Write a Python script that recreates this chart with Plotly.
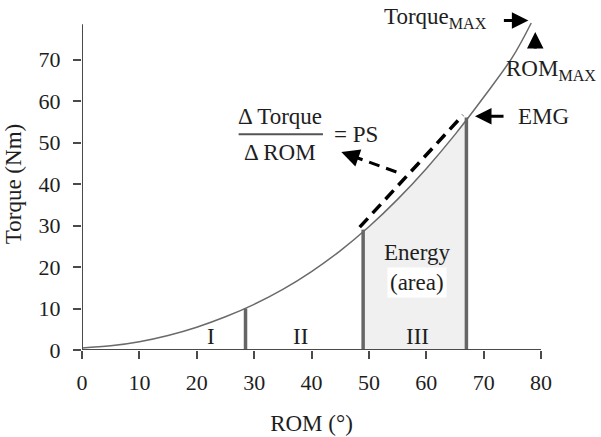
import plotly.graph_objects as go

# Torque-ROM curve
rom = [0, 5, 10, 15, 20, 25, 30, 35, 40, 45, 50, 55, 60, 65, 70, 75, 78.3]
torque = [0.5, 1.0, 2.0, 3.5, 5.5, 8.0, 11.0, 14.6, 18.9, 23.9, 29.7, 36.3, 43.7, 51.9, 60.9, 70.5, 78.8]

# vertical markers separating phases
bar_x = [28.5, 49, 67]
bar_h = [10, 29, 56]

# passive stiffness chord (dashed)
chord_x = [48.4, 66.4]
chord_y = [29.6, 56.6]

# dashed pointer arrow
ptr_x = [54.8, 46.2]
ptr_y = [42.9, 47.2]

phase_labels = ["I", "II", "III"]
phase_x = [22.5, 38, 58.5]
phase_y = [3.2, 3.2, 3.2]

xticks = [0, 10, 20, 30, 40, 50, 60, 70, 80]
yticks = [0, 10, 20, 30, 40, 50, 60, 70]

FONT = "Liberation Serif, Times New Roman, serif"
AX = "#4a4a4a"
TXT = "#1e1e1e"

fig = go.Figure()

# energy area between bar 2 and bar 3
lo, hi = bar_x[1], bar_x[2]
area_x = [lo] + [x for x in rom if lo < x < hi] + [hi]
area_y = [bar_h[1]] + [y for x, y in zip(rom, torque) if lo < x < hi] + [bar_h[2]]
fig.add_trace(go.Scatter(x=area_x, y=area_y, fill="tozeroy", fillcolor="#f0f0f0",
                         line=dict(width=0), mode="lines", hoverinfo="skip"))

fig.add_trace(go.Scatter(x=rom, y=torque, mode="lines",
                         line=dict(color="#6a6a6a", width=1.5, shape="spline")))

for bx, bh in zip(bar_x, bar_h):
    fig.add_trace(go.Scatter(x=[bx, bx], y=[0, bh], mode="lines",
                             line=dict(color="#666666", width=3.5)))

fig.add_trace(go.Scatter(x=chord_x, y=chord_y, mode="lines",
                         line=dict(color="black", width=3.5, dash="12px,7px")))
fig.add_trace(go.Scatter(x=ptr_x, y=ptr_y, mode="lines",
                         line=dict(color="black", width=3, dash="11px,7px")))

# axis lines
fig.add_shape(type="line", x0=0, x1=0, y0=0, y1=78.5, xref="x", yref="y",
              line=dict(color=AX, width=2))
fig.add_shape(type="line", x0=-1.4, x1=80, y0=0, y1=0, xref="x", yref="y",
              line=dict(color=AX, width=2))
# fraction bar
fig.add_shape(type="line", x0=27.3, x1=42.0, y0=52.0, y1=52.0, xref="x", yref="y",
              line=dict(color="#555555", width=2))

ann = []
tf = dict(family=FONT, size=23, color=TXT)
for t, x, y in zip(phase_labels, phase_x, phase_y):
    ann.append(dict(x=x, y=y, text=t, showarrow=False, font=tf))
ann.append(dict(x=58.4, y=23.5, text="Energy", showarrow=False, font=tf))
ann.append(dict(x=58.4, y=16.2, text="(area)", showarrow=False, font=tf,
                bgcolor="white", borderpad=2))
ann.append(dict(x=34.5, y=56.3, text="Δ Torque", showarrow=False, font=tf))
ann.append(dict(x=34.5, y=47.6, text="Δ ROM", showarrow=False, font=tf))
ann.append(dict(x=47.8, y=52.0, text="= PS", showarrow=False, font=tf))
# pointer arrowhead
ann.append(dict(x=45.2, y=47.7, ax=10, ay=3.5, text="", showarrow=True,
                arrowhead=2, arrowsize=1.2, arrowwidth=3, arrowcolor="black"))
# Torque max
ann.append(dict(x=71.0, y=1.0, yref="paper", text="Torque<sub>MAX</sub>", showarrow=False,
                font=tf, xanchor="right", yanchor="middle"))
ann.append(dict(x=77.8, y=79.4, ax=-26, ay=0, text="", showarrow=True,
                arrowhead=2, arrowsize=1.1, arrowwidth=3, arrowcolor="black"))
# ROM max
ann.append(dict(x=79.0, y=76.6, ax=0, ay=18, text="", showarrow=True,
                arrowhead=2, arrowsize=1.1, arrowwidth=3, arrowcolor="black"))
ann.append(dict(x=1.124, xref="paper", y=67.5, text="ROM<sub>MAX</sub>", showarrow=False,
                font=tf, xanchor="right"))
# EMG
ann.append(dict(x=68.5, y=56.3, ax=30, ay=0, text="", showarrow=True,
                arrowhead=2, arrowsize=1.1, arrowwidth=3, arrowcolor="black"))
ann.append(dict(x=75.7, y=56.3, text="EMG", showarrow=False, font=tf, xanchor="left"))

fig.update_layout(
    width=601, height=437,
    margin=dict(l=82, r=60, t=18, b=87),
    paper_bgcolor="white", plot_bgcolor="white",
    showlegend=False,
    font=dict(family=FONT, color=TXT),
    annotations=ann,
)
fig.update_xaxes(range=[0, 80], tickvals=xticks, ticks="outside", ticklen=8,
                 tickcolor=AX, tickwidth=1.5, showline=False, showgrid=False,
                 zeroline=False, tickfont=dict(size=22, color=TXT), ticklabelstandoff=5,
                 automargin=False,
                 title=dict(text="ROM (°)", font=dict(size=23, color=TXT), standoff=20))
fig.update_yaxes(range=[0, 80], tickvals=yticks, ticks="outside", ticklen=8,
                 tickcolor=AX, tickwidth=1.5, showline=False, showgrid=False,
                 zeroline=False, tickfont=dict(size=22, color=TXT), ticklabelstandoff=8,
                 automargin=False,
                 title=dict(text="Torque (Nm)", font=dict(size=23, color=TXT), standoff=10))

fig.write_html("out.html")
